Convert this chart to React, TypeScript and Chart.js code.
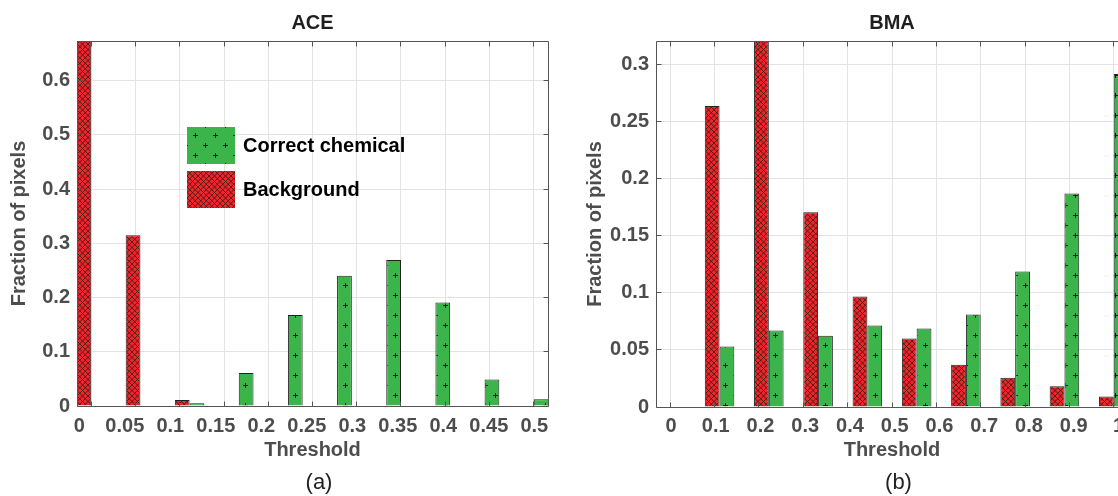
import React, { useEffect, useRef } from 'react';
import { Chart, registerables } from 'chart.js';

Chart.register(...registerables);

// ---------------- Data ----------------
const binIndex = [0, 1, 2, 3, 4, 5, 6, 7, 8, 9];
const seriesNames = ['Background', 'Correct chemical'];

const aceTickLabels = ['0', '0.05', '0.1', '0.15', '0.2', '0.25', '0.3', '0.35', '0.4', '0.45', '0.5'];
const aceCorrectChemical = [0, 0, 0.005, 0.061, 0.168, 0.24, 0.269, 0.191, 0.049, 0.0123];
const aceBackground = [0.673, 0.315, 0.011, 0, 0, 0, 0, 0, 0, 0];
const aceYTicks = [0, 0.1, 0.2, 0.3, 0.4, 0.5, 0.6];
const aceYMax = 0.673;

const bmaTickLabels = ['0', '0.1', '0.2', '0.3', '0.4', '0.5', '0.6', '0.7', '0.8', '0.9', '1'];
const bmaCorrectChemical = [0, 0.053, 0.067, 0.0625, 0.0713, 0.0687, 0.081, 0.1186, 0.187, 0.2915];
const bmaBackground = [0, 0.2635, 0.3205, 0.1706, 0.0967, 0.0599, 0.0371, 0.0257, 0.0181, 0.0091];
const bmaYTicks = [0, 0.05, 0.1, 0.15, 0.2, 0.25, 0.3];
const bmaYMax = 0.3205;

// ---------------- Style ----------------
const FONT_FAMILY = '"Liberation Sans", Arial, Helvetica, sans-serif';
const AXIS_TEXT = '#4d4d4d';
const TITLE_TEXT = '#1f1f1f';
const GRID = '#e3e3e3';
const FRAME = '#555555';
const BAR_EDGE = '#222222';
const RED = '#ee2529';
const GREEN = '#3bb54a';
const HATCH_INK = '#3a1212';
const PLUS_INK = '#1a1a1a';

function hatchPattern(): any {
  const c = document.createElement('canvas');
  c.width = 11;
  c.height = 11;
  const g = c.getContext('2d');
  if (!g) return RED;
  g.fillStyle = RED;
  g.fillRect(0, 0, 11, 11);
  g.strokeStyle = HATCH_INK;
  g.lineWidth = 0.8;
  g.beginPath();
  for (let k = -11; k <= 22; k += 5.5) {
    g.moveTo(k, 0);
    g.lineTo(k + 11, 11);
    g.moveTo(k, 0);
    g.lineTo(k - 11, 11);
  }
  g.stroke();
  return g.createPattern(c, 'repeat') || RED;
}

function plusPattern(): any {
  const c = document.createElement('canvas');
  c.width = 20;
  c.height = 20;
  const g = c.getContext('2d');
  if (!g) return GREEN;
  g.fillStyle = GREEN;
  g.fillRect(0, 0, 20, 20);
  g.fillStyle = PLUS_INK;
  const centers = [[5, 5], [15, 15]];
  for (const [px, py] of centers) {
    g.fillRect(px - 2, py, 5, 1);
    g.fillRect(px, py - 2, 1, 5);
  }
  return g.createPattern(c, 'repeat') || GREEN;
}

const align = (p: number) => Math.round(p + 0.5) - 0.5;

const framePlugin = {
  id: 'matlabFrame',
  afterDatasetsDraw(chart: any) {
    const { ctx, chartArea: a } = chart;
    const xg = chart.scales.xg;
    const y = chart.scales.y;
    const L = align(a.left);
    const R = align(a.right);
    const T = align(a.top);
    const B = align(a.bottom);
    const tl = 5;
    ctx.save();
    ctx.strokeStyle = FRAME;
    ctx.lineWidth = 1;
    ctx.beginPath();
    ctx.rect(L, T, R - L, B - T);
    for (const t of xg.ticks) {
      const px = align(xg.getPixelForValue(t.value));
      ctx.moveTo(px, T);
      ctx.lineTo(px, T + tl);
      ctx.moveTo(px, B);
      ctx.lineTo(px, B - tl);
    }
    for (const t of y.ticks) {
      const py = align(y.getPixelForValue(t.value));
      ctx.moveTo(L, py);
      ctx.lineTo(L + tl, py);
      ctx.moveTo(R, py);
      ctx.lineTo(R - tl, py);
    }
    ctx.stroke();
    ctx.restore();
  },
};

type PanelSpec = {
  title: string;
  caption: string;
  correct: number[];
  background: number[];
  tickLabels: string[];
  yTicks: number[];
  yMax: number;
  canvasLeft: number;
  canvasWidth: number;
  yAxisWidth: number;
  rightPad: number;
  xAxisHeight: number;
  yTitlePad: number;
  labelMin: number;
  labelMax: number;
  tickPad: number;
  legend: null | { x: number; y: number };
};

const acePanel: PanelSpec = {
  title: 'ACE',
  caption: '(a)',
  correct: aceCorrectChemical,
  background: aceBackground,
  tickLabels: aceTickLabels,
  yTicks: aceYTicks,
  yMax: aceYMax,
  canvasLeft: 0,
  canvasWidth: 560,
  yAxisWidth: 77,
  rightPad: 12,
  xAxisHeight: 90,
  yTitlePad: 7,
  labelMin: -0.0505,
  labelMax: 10.301,
  tickPad: 8,
  legend: { x: 187, y: 127 },
};

const bmaPanel: PanelSpec = {
  title: 'BMA',
  caption: '(b)',
  correct: bmaCorrectChemical,
  background: bmaBackground,
  tickLabels: bmaTickLabels,
  yTicks: bmaYTicks,
  yMax: bmaYMax,
  canvasLeft: 560,
  canvasWidth: 600,
  yAxisWidth: 96,
  rightPad: 32,
  xAxisHeight: 89,
  yTitlePad: 23.5,
  labelMin: -0.335,
  labelMax: 10.212,
  tickPad: 7,
  legend: null,
};

function Panel({ spec }: { spec: PanelSpec }) {
  const ref = useRef<HTMLCanvasElement>(null);

  useEffect(() => {
    const canvas = ref.current;
    if (!canvas) return;
    const hatch = hatchPattern();
    const plus = plusPattern();
    const first = binIndex[0];
    const last = binIndex[binIndex.length - 1];
    const edge = 0.29;
    const nGrid = spec.tickLabels.length;

    const overlayPlugin = {
      id: 'overlay',
      afterDraw(chart: any) {
        const { ctx, chartArea: a } = chart;
        ctx.save();
        ctx.font = `22px ${FONT_FAMILY}`;
        ctx.fillStyle = '#222222';
        ctx.textAlign = 'center';
        ctx.textBaseline = 'alphabetic';
        ctx.fillText(spec.caption, (a.left + a.right) / 2 + 6.5, 489);
        if (spec.legend) {
          const sw = 48;
          const sh = 37;
          const rowStep = 44;
          const ds = chart.data.datasets.slice().reverse();
          ctx.font = `bold 20px ${FONT_FAMILY}`;
          ctx.textAlign = 'left';
          ctx.textBaseline = 'middle';
          ds.forEach((d: any, i: number) => {
            const top = spec.legend!.y + i * rowStep;
            ctx.fillStyle = d.backgroundColor;
            ctx.fillRect(spec.legend!.x, top, sw, sh);
            ctx.fillStyle = '#000000';
            ctx.fillText(d.label, spec.legend!.x + 56, top + sh / 2 + 1);
          });
        }
        ctx.restore();
      },
    };

    const chart = new Chart(canvas, {
      type: 'bar',
      data: {
        datasets: [
          {
            label: seriesNames[0],
            data: binIndex.map((b, i) => ({ x: b, y: spec.background[i] })),
            backgroundColor: hatch,
            borderColor: BAR_EDGE,
            borderWidth: 1,
            categoryPercentage: 0.6,
            barPercentage: 1,
            xAxisID: 'x',
            yAxisID: 'y',
          },
          {
            label: seriesNames[1],
            data: binIndex.map((b, i) => ({ x: b, y: spec.correct[i] })),
            backgroundColor: plus,
            borderColor: BAR_EDGE,
            borderWidth: 1,
            categoryPercentage: 0.6,
            barPercentage: 1,
            xAxisID: 'x',
            yAxisID: 'y',
          },
        ],
      } as any,
      options: {
        animation: false,
        responsive: false,
        events: [],
        layout: { padding: { left: 0, right: spec.rightPad, top: 0, bottom: 0 } },
        scales: {
          x: {
            type: 'linear',
            display: false,
            min: first - edge,
            max: last + edge,
            offset: false,
            grid: { offset: false },
          },
          xg: {
            type: 'linear',
            position: 'bottom',
            min: first - edge,
            max: last + edge,
            offset: false,
            afterBuildTicks: (s: any) => {
              s.ticks = spec.tickLabels.map((_, k) => ({ value: first + (k * (last - first)) / (nGrid - 1) }));
            },
            ticks: { display: false },
            grid: { display: true, color: GRID, lineWidth: 1, drawTicks: false, offset: false },
            border: { display: false },
            afterFit: (s: any) => {
              s.height = 0;
            },
          },
          xl: {
            type: 'linear',
            position: 'bottom',
            min: spec.labelMin,
            max: spec.labelMax,
            offset: false,
            afterBuildTicks: (s: any) => {
              s.ticks = spec.tickLabels.map((_, k) => ({ value: k }));
            },
            ticks: {
              autoSkip: false,
              maxRotation: 0,
              minRotation: 0,
              padding: spec.tickPad,
              color: AXIS_TEXT,
              font: { family: FONT_FAMILY, size: 20, weight: 'bold' },
              callback: (_v: any, i: number) => spec.tickLabels[i],
            },
            grid: { display: false, drawTicks: false },
            border: { display: false },
            title: {
              display: true,
              text: 'Threshold',
              color: AXIS_TEXT,
              font: { family: FONT_FAMILY, size: 20, weight: 'bold' },
              padding: { top: 0, bottom: 34 },
            },
            afterFit: (s: any) => {
              s.height = spec.xAxisHeight;
            },
          },
          y: {
            type: 'linear',
            position: 'left',
            min: 0,
            max: spec.yMax,
            afterBuildTicks: (s: any) => {
              s.ticks = spec.yTicks.map((v) => ({ value: v }));
            },
            ticks: {
              padding: 7,
              color: AXIS_TEXT,
              font: { family: FONT_FAMILY, size: 20, weight: 'bold' },
              callback: (v: any) => String(v),
            },
            grid: { color: GRID, lineWidth: 1, drawTicks: false },
            border: { display: false },
            title: {
              display: true,
              text: 'Fraction of pixels',
              color: AXIS_TEXT,
              font: { family: FONT_FAMILY, size: 20, weight: 'bold' },
              padding: { top: spec.yTitlePad, bottom: 0 },
            },
            afterFit: (s: any) => {
              s.width = spec.yAxisWidth;
            },
          },
        },
        plugins: {
          legend: { display: false },
          tooltip: { enabled: false },
          title: {
            display: true,
            text: spec.title,
            color: TITLE_TEXT,
            fullSize: false,
            font: { family: FONT_FAMILY, size: 20, weight: 'bold' },
            padding: { top: 11, bottom: 6 },
          },
        },
      } as any,
      plugins: [framePlugin, overlayPlugin],
    });
    return () => chart.destroy();
  }, [spec]);

  return (
    <canvas
      ref={ref}
      width={spec.canvasWidth}
      height={496}
      style={{ position: 'absolute', left: spec.canvasLeft, top: 0, display: 'block' }}
    />
  );
}

export default function App() {
  return (
    <div
      style={{
        position: 'absolute',
        left: 0,
        top: 0,
        width: 1118,
        height: 496,
        overflow: 'hidden',
        background: '#ffffff',
      }}
    >
      <Panel spec={acePanel} />
      <Panel spec={bmaPanel} />
    </div>
  );
}
